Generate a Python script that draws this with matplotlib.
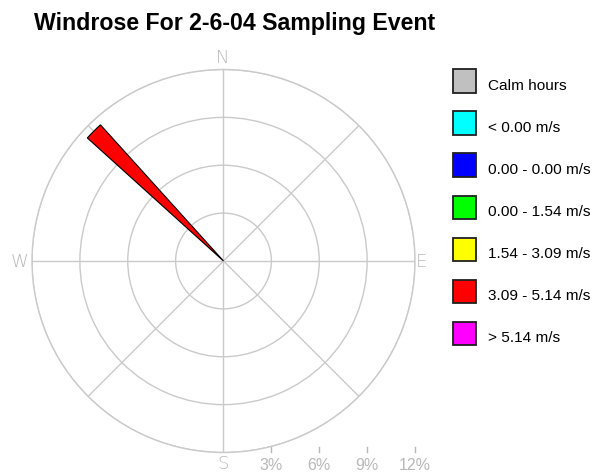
import numpy as np
import matplotlib
matplotlib.use("Agg")
import matplotlib.pyplot as plt
from matplotlib.patches import Rectangle
from matplotlib.transforms import blended_transform_factory

plt.rcParams['font.family'] = ['Liberation Sans', 'DejaVu Sans']

# --- data -------------------------------------------------------------
directions = ["N", "NNE", "NE", "ENE", "E", "ESE", "SE", "SSE",
              "S", "SSW", "SW", "WSW", "W", "WNW", "NW", "NNW"]
dir_degrees = np.arange(16) * 22.5

speed_classes = ["< 0.00 m/s", "0.00 - 0.00 m/s", "0.00 - 1.54 m/s",
                 "1.54 - 3.09 m/s", "3.09 - 5.14 m/s", "> 5.14 m/s"]
class_colors = ["#00ffff", "#0000ff", "#00ff00", "#ffff00", "#ff0000", "#ff00ff"]

# frequency (%) per direction for each speed class
freq_lt0    = [0] * 16
freq_0_0    = [0] * 16
freq_0_154  = [0] * 16
freq_154_309 = [0] * 16
freq_309_514 = [0, 0, 0, 0, 0, 0, 0, 0, 0, 0, 0, 0, 0, 0, 11.5, 0]
freq_gt514  = [0] * 16
class_freqs = [freq_lt0, freq_0_0, freq_0_154, freq_154_309, freq_309_514, freq_gt514]

calm_label = "Calm hours"
calm_color = "#c0c0c0"

ring_values = [3, 6, 9, 12]
ring_labels = ["3%", "6%", "9%", "12%"]
compass_labels = ["N", "E", "S", "W"]

# --- figure -----------------------------------------------------------
W, H = 597, 472
fig = plt.figure(figsize=(W / 100, H / 100), dpi=100)
fig.patch.set_facecolor("white")

def fx(px):
    return px / W

def fy(py):
    return 1 - py / H

cx, cy, R = 223.5, 261, 191.5
ax = fig.add_axes([fx(cx - R), fy(cy + R), 2 * R / W, 2 * R / H], projection="polar")
ax.set_theta_zero_location("N")
ax.set_theta_direction(-1)
ax.set_ylim(0, ring_values[-1])
ax.set_yticks(ring_values)
ax.set_yticklabels([])
ax.set_xticks(np.deg2rad(np.arange(0, 360, 45)))
ax.set_xticklabels([])
grid_col = "#cacaca"
ax.grid(True, color=grid_col, lw=1.0)
ax.spines["polar"].set_color(grid_col)
ax.spines["polar"].set_linewidth(1.0)
ax.tick_params(length=0)

# stacked wind-rose wedges
theta = np.deg2rad(dir_degrees)
width = np.deg2rad(5.8)
bottom = np.zeros(16)
for vals, col in zip(class_freqs, class_colors):
    vals = np.asarray(vals, dtype=float)
    mask = vals > 0
    if mask.any():
        ax.bar(theta[mask], vals[mask], width=width, bottom=bottom[mask],
               color=col, edgecolor="black", linewidth=0.8, zorder=3)
    bottom += vals

# compass labels
lab_col = "#b8b8b8"
comp_pos = {"N": (223, 58), "E": (421, 262), "S": (223, 464), "W": (20, 262)}
for lab in compass_labels:
    x, y = comp_pos[lab]
    fig.text(fx(x), fy(y), lab, color=lab_col, fontsize=13,
             ha="center", va="center", family=["DejaVu Sans"], fontweight="light")

# radial scale below the rose
tr = blended_transform_factory(ax.transAxes, fig.transFigure)
for v, lab in zip(ring_values, ring_labels):
    xa = 0.5 + 0.5 * v / ring_values[-1]
    ax.plot([xa, xa], [fy(447), fy(452)], transform=tr, color=lab_col,
            lw=1.0, clip_on=False)
    ax.text(xa, fy(465), lab, transform=tr, color=lab_col, fontsize=11.5,
            ha="center", va="center", clip_on=False)

# title
fig.text(fx(34), fy(30), "Windrose For 2-6-04 Sampling Event",
         fontsize=16.7, fontweight="bold", ha="left", va="baseline")

# legend
leg_labels = [calm_label] + speed_classes
leg_colors = [calm_color] + class_colors
for i, (lab, col) in enumerate(zip(leg_labels, leg_colors)):
    top = 69.3 + 42.07 * i
    fig.patches.append(Rectangle((fx(453), fy(top + 23.5)), 23 / W, 23.5 / H,
                                 transform=fig.transFigure, facecolor=col,
                                 edgecolor="#202020", linewidth=1.3))
    fig.text(fx(488), fy(top + 20.7), lab, fontsize=11.1, ha="left",
             va="baseline")

fig.savefig("out.png", dpi=100)
